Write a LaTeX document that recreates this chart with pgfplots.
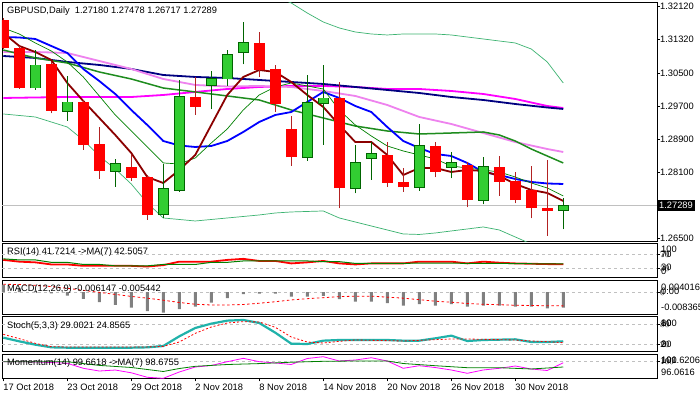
\documentclass[border=0pt]{standalone}
\usepackage{pgfplots}
\pgfplotsset{compat=1.18}
\usepackage{fontspec}
\setmainfont{Liberation Sans}
\newcommand{\lbl}{\fontsize{9.3}{10}\selectfont}
\definecolor{bullfill}{HTML}{32CD32}
\definecolor{bullline}{HTML}{006400}
\definecolor{bearfill}{HTML}{FF0000}
\definecolor{bearwick}{HTML}{B22222}
\definecolor{ma5}{HTML}{8B0000}
\definecolor{thgreen}{HTML}{008000}
\definecolor{tkgreen}{HTML}{1E8C1E}
\definecolor{bband}{HTML}{3CB371}
\definecolor{violetc}{HTML}{EE82EE}
\definecolor{navyc}{HTML}{000080}
\definecolor{magc}{HTML}{FF00FF}
\definecolor{bluec}{HTML}{0000FF}
\definecolor{stochc}{HTML}{20B2AA}
\definecolor{lvl}{HTML}{C0C0C0}
\definecolor{histc}{HTML}{808080}
\pgfplotsset{
  scaled ticks=false,
  panel/.style={scale only axis, width=655pt, xmin=-0.08, xmax=40.86,
    axis line style={line width=0.8pt, black}, xtick=\empty,
    ytick pos=right, yticklabel pos=right, tick align=outside,
    major tick length=3pt, tick style={black, line width=0.6pt},
    yticklabel style={font=\lbl, anchor=west, inner sep=0pt, text=black},
    clip=true},
}
% bull{k}{Low}{Open}{Close}{High}
\newcommand{\bull}[5]{%
\addplot[bullline, line width=0.8pt] coordinates {(#1,#2)(#1,#5)};
\addplot[bullline, line width=10.7pt, shorten <=-0.8pt, shorten >=-0.8pt] coordinates {(#1,#3)(#1,#4)};
\addplot[bullfill, line width=9.1pt] coordinates {(#1,#3)(#1,#4)};}
% bear{k}{Low}{Close}{Open}{High}
\newcommand{\bear}[5]{%
\addplot[bearwick, line width=0.8pt] coordinates {(#1,#2)(#1,#5)};
\addplot[bearfill, line width=10.7pt] coordinates {(#1,#3)(#1,#4)};}
\begin{document}
\begin{tikzpicture}
\useasboundingbox (0,0) rectangle (700pt,-400pt);
\fill[white] (0,0) rectangle (700pt,-400pt);
% ---------------- main price panel
\begin{axis}[panel, at={(2pt,-2pt)}, anchor=north west, height=239.5pt,
  ymin=1.26422, ymax=1.32234,
  ytick={1.26500,1.28100,1.28900,1.29700,1.30500,1.31320,1.32120},
  yticklabels={1.26500,1.28100,1.28900,1.29700,1.30500,1.31320,1.32120}]
% Bollinger bands
\addplot[bband, line width=0.7pt] coordinates {(0,1.3345)(4,1.3330)(8,1.3310)(12,1.3285)(15,1.3260)(16,1.3250)(17,1.32380)(18,1.32210)(19,1.31967)(20,1.31749)(21,1.31604)(22,1.31507)(23,1.31458)(24,1.31434)(25,1.31458)(26,1.31458)(27,1.31458)(28,1.31434)(29,1.31385)(30,1.31337)(31,1.31288)(32,1.31240)(33,1.31094)(34,1.30779)(35,1.30269)};
\addplot[bband, line width=0.7pt] coordinates {(0,1.29517)(2,1.29444)(4,1.29201)(5,1.28886)(6,1.28497)(7,1.28182)(8,1.27818)(9,1.27357)(10,1.26993)(11,1.26957)(12,1.26920)(14,1.26993)(16,1.27066)(17,1.27114)(18,1.27139)(20,1.27163)(21,1.26993)(22,1.26896)(24,1.26702)(25,1.26605)(26,1.26593)(27,1.26629)(28,1.26678)(29,1.26726)(30,1.26775)(31,1.26702)(32,1.26532)(33,1.26362)(34,1.26168)(35,1.26022)};
% long moving averages
\addplot[magc, line width=1.8pt] coordinates {(0,1.29905)(4,1.29929)(8,1.29929)(10,1.29978)(12,1.30051)(14,1.30123)(16,1.30172)(18,1.30196)(20,1.30196)(22,1.30172)(24,1.30123)(26,1.30123)(28,1.30075)(30,1.30002)(32,1.29881)(34,1.29711)(35,1.29662)};
\addplot[navyc, line width=1.8pt] coordinates {(0,1.30924)(2,1.30876)(4,1.30779)(6,1.30706)(8,1.30609)(10,1.30463)(12,1.30415)(14,1.30390)(16,1.30342)(18,1.30293)(20,1.30245)(22,1.30172)(24,1.30099)(26,1.30026)(28,1.29929)(30,1.29856)(32,1.29759)(34,1.29674)(35,1.29638)};
\addplot[violetc, line width=1.8pt] coordinates {(0,1.31021)(2,1.31021)(4,1.30997)(6,1.30803)(8,1.30609)(10,1.30366)(12,1.30221)(14,1.30184)(16,1.30196)(18,1.30172)(20,1.30075)(22,1.29954)(24,1.29735)(26,1.29444)(28,1.29274)(30,1.29055)(32,1.28837)(34,1.28667)(35,1.28594)};
\addplot[tkgreen, line width=1.5pt] coordinates {(0,1.31070)(2,1.30876)(4,1.30754)(6,1.30536)(8,1.30366)(10,1.30147)(12,1.30051)(14,1.29954)(16,1.29856)(18,1.29614)(20,1.29420)(22,1.29225)(24,1.29104)(26,1.29031)(28,1.29055)(30,1.29080)(31,1.29007)(32,1.28861)(33,1.28667)(34,1.28497)(35,1.28328)};
\addplot[bluec, line width=1.8pt] coordinates {(0,1.31385)(1,1.31373)(2,1.31337)(3,1.31167)(4,1.30997)(5,1.30609)(6,1.30317)(7,1.30002)(8,1.29614)(9,1.29250)(10,1.28861)(11,1.28752)(12,1.28716)(13,1.28740)(14,1.28861)(15,1.29080)(16,1.29323)(17,1.29492)(18,1.29565)(19,1.29808)(20,1.30051)(21,1.29905)(22,1.29711)(23,1.29565)(24,1.29201)(25,1.28861)(26,1.28692)(27,1.28546)(28,1.28497)(29,1.28328)(30,1.28109)(31,1.28036)(32,1.27939)(33,1.27867)(34,1.27830)(35,1.27818)};
\addplot[thgreen, line width=0.7pt] coordinates {(0,1.31604)(1,1.31458)(2,1.31240)(3,1.31045)(4,1.30779)(5,1.30415)(6,1.29954)(7,1.29492)(8,1.29104)(9,1.28716)(10,1.28328)(11,1.28303)(12,1.28449)(13,1.28813)(14,1.29153)(15,1.29614)(16,1.29978)(17,1.30172)(18,1.30269)(19,1.30196)(20,1.30123)(21,1.29614)(22,1.29250)(23,1.28983)(24,1.28740)(25,1.28619)(26,1.28522)(27,1.28425)(28,1.28255)(29,1.28206)(30,1.28158)(31,1.28109)(32,1.27988)(33,1.27842)(34,1.27721)(35,1.27527)};
\addplot[ma5, line width=1.8pt] coordinates {(0,1.31482)(1,1.31167)(2,1.31021)(3,1.30827)(4,1.30269)(5,1.29832)(6,1.29420)(7,1.29007)(8,1.28570)(9,1.27988)(10,1.27842)(11,1.28158)(12,1.28522)(13,1.29250)(14,1.29978)(15,1.30415)(16,1.30584)(17,1.30536)(18,1.30293)(19,1.29978)(20,1.29687)(21,1.29250)(22,1.28837)(23,1.28837)(24,1.28522)(25,1.28036)(26,1.28206)(27,1.28206)(28,1.28109)(29,1.28158)(30,1.28134)(31,1.28012)(32,1.27818)(33,1.27673)(34,1.27600)(35,1.27406)};
% current price line
\addplot[lvl, line width=0.8pt] coordinates {(-0.08,1.27289)(40.86,1.27289)};
% candles
\bear{0}{1.31094}{1.31111}{1.31797}{1.31846}
\bear{1}{1.30123}{1.30155}{1.31111}{1.31166}
\bull{2}{1.30099}{1.30155}{1.30698}{1.31069}
\bear{3}{1.29533}{1.29596}{1.30730}{1.30785}
\bull{4}{1.29354}{1.29596}{1.29800}{1.30438}
\bear{5}{1.28643}{1.28764}{1.29800}{1.29856}
\bear{6}{1.27939}{1.28140}{1.28788}{1.29194}
\bull{7}{1.27752}{1.28140}{1.28303}{1.28424}
\bear{8}{1.27898}{1.27956}{1.28223}{1.28521}
\bear{9}{1.26944}{1.27065}{1.27980}{1.28036}
\bull{10}{1.26985}{1.27082}{1.27689}{1.28303}
\bull{11}{1.27631}{1.27672}{1.29936}{1.30341}
\bear{12}{1.29492}{1.29693}{1.29936}{1.30421}
\bull{13}{1.29630}{1.30213}{1.30373}{1.30560}
\bull{14}{1.30196}{1.30373}{1.30941}{1.31069}
\bull{15}{1.30722}{1.31014}{1.31232}{1.31741}
\bear{16}{1.30421}{1.30584}{1.31232}{1.31499}
\bear{17}{1.29572}{1.29752}{1.30601}{1.30705}
\bear{18}{1.28262}{1.28466}{1.29145}{1.29468}
\bull{19}{1.28383}{1.28466}{1.29776}{1.30463}
\bull{20}{1.28764}{1.29776}{1.29897}{1.30705}
\bear{21}{1.27228}{1.27713}{1.29897}{1.30300}
\bull{22}{1.27592}{1.27713}{1.28320}{1.28764}
\bull{23}{1.27915}{1.28441}{1.28546}{1.28830}
\bear{24}{1.27752}{1.27849}{1.28521}{1.28844}
\bear{25}{1.27631}{1.27738}{1.27859}{1.28199}
\bull{26}{1.27655}{1.27738}{1.28747}{1.29274}
\bear{27}{1.27980}{1.28116}{1.28747}{1.28844}
\bull{28}{1.27956}{1.28237}{1.28320}{1.28601}
\bear{29}{1.27252}{1.27429}{1.28279}{1.28359}
\bull{30}{1.27325}{1.27429}{1.28223}{1.28480}
\bear{31}{1.27534}{1.27873}{1.28223}{1.28504}
\bear{32}{1.27349}{1.27429}{1.27890}{1.28102}
\bear{33}{1.26985}{1.27228}{1.27672}{1.28254}
\bear{34}{1.26563}{1.27170}{1.27228}{1.28400}
\bull{35}{1.26717}{1.27180}{1.27289}{1.27478}
\coordinate (cp) at (axis cs:40.86,1.27289);
\end{axis}
\node[fill=black, text=white, font=\lbl, anchor=west, inner xsep=2pt, inner ysep=0pt, minimum height=11pt] at (cp) {1.27289};
\node[anchor=west, font=\lbl, inner sep=0pt] at (7pt,-11pt) {GBPUSD,Daily\ \ 1.27180 1.27478 1.26717 1.27289};
% ---------------- RSI
\begin{axis}[panel, at={(2pt,-243.5pt)}, anchor=north west, height=34.2pt,
  ymin=3, ymax=101, ytick={30,70}, yticklabel={}]
\addplot[lvl, dash pattern=on 3pt off 3pt, line width=0.6pt] coordinates {(-0.08,70)(40.86,70)};
\addplot[lvl, dash pattern=on 3pt off 3pt, line width=0.6pt] coordinates {(-0.08,30)(40.86,30)};
\addplot[red, line width=1.8pt] coordinates {(0,54)(1,49)(2,47)(3,41)(4,41)(5,37)(6,37)(7,37)(8,37)(9,35)(10,39)(11,49)(12,49)(13,49)(14,54)(15,57)(16,51)(17,51)(18,44)(19,47)(20,51)(21,44)(22,41)(23,44)(24,44)(25,44)(26,49)(27,49)(28,49)(29,44)(30,49)(31,46)(32,44)(33,43)(34,42)(35,41.72)};
\addplot[thgreen, line width=1pt] coordinates {(0,57)(1,54)(2,54)(3,47)(4,47)(5,41)(6,41)(7,37)(8,37)(9,37)(10,41)(11,41)(12,41)(13,47)(14,47)(15,51)(16,51)(17,51)(18,51)(19,51)(20,49)(21,49)(22,44)(23,44)(24,44)(25,44)(26,45)(27,45)(28,45)(29,44)(30,44)(31,44)(32,43.5)(33,43)(34,42.8)(35,42.51)};
\end{axis}
\node[anchor=west, font=\lbl, inner sep=0pt] at (7pt,-252.3pt) {RSI(14) 41.7214 ->MA(7) 42.5057};
\node[anchor=west, font=\lbl, inner sep=0pt] at (661pt,-249.5pt) {100};
\node[anchor=west, font=\lbl, inner sep=0pt] at (661pt,-253.8pt) {70};
\node[anchor=west, font=\lbl, inner sep=0pt] at (661pt,-267.5pt) {30};
\node[anchor=west, font=\lbl, inner sep=0pt] at (661pt,-270.8pt) {0};
% ---------------- MACD
\begin{axis}[panel, at={(2pt,-280pt)}, anchor=north west, height=34.3pt,
  ymin=-0.008786, ymax=0.004792, ytick={0}, yticklabel={}]
\addplot[lvl, dash pattern=on 3pt off 3pt, line width=0.6pt] coordinates {(-0.08,0)(40.86,0)};
\addplot[ybar, bar width=3pt, fill=histc, draw=none] coordinates {(0,0.0030)(1,0.0015)(2,0.0005)(3,-0.0005)(4,-0.0014)(5,-0.0027)(6,-0.0040)(7,-0.0051)(8,-0.0061)(9,-0.0075)(10,-0.0081)(11,-0.0067)(12,-0.0057)(13,-0.00415)(14,-0.0024)(15,-0.0008)(16,-0.00056)(17,-0.00056)(18,-0.00176)(19,-0.00176)(20,-0.00148)(21,-0.0028)(22,-0.00375)(23,-0.00375)(24,-0.0044)(25,-0.0053)(26,-0.0048)(27,-0.0053)(28,-0.0048)(29,-0.00575)(30,-0.0053)(31,-0.0053)(32,-0.00575)(33,-0.00575)(34,-0.0064)(35,-0.006147)};
\addplot[red, line width=0.8pt, dash pattern=on 2.5pt off 2.5pt] coordinates {(0,0.0031)(1,0.0030)(2,0.0027)(3,0.0022)(4,0.0015)(5,0.0007)(6,-0.0001)(7,-0.0009)(8,-0.0017)(9,-0.0024)(10,-0.0032)(11,-0.0041)(12,-0.0048)(13,-0.0051)(14,-0.0051)(15,-0.0049)(16,-0.0044)(17,-0.0038)(18,-0.0031)(19,-0.0026)(20,-0.0022)(21,-0.0018)(22,-0.0016)(23,-0.0016)(24,-0.0020)(25,-0.0024)(26,-0.0030)(27,-0.0036)(28,-0.0040)(29,-0.0045)(30,-0.0048)(31,-0.0050)(32,-0.0052)(33,-0.0053)(34,-0.0054)(35,-0.005442)};
\end{axis}
\node[anchor=west, font=\lbl, inner sep=0pt] at (7pt,-289pt) {MACD(12,26,9) -0.006147 -0.005442};
\node[anchor=west, font=\lbl, inner sep=0pt] at (661pt,-287.5pt) {0.004016};
\node[anchor=west, font=\lbl, inner sep=0pt] at (661pt,-291.3pt) {0.00};
\node[anchor=west, font=\lbl, inner sep=0pt] at (661pt,-307pt) {-0.008365};
% ---------------- Stochastic
\begin{axis}[panel, at={(2pt,-316.7pt)}, anchor=north west, height=34.3pt,
  ymin=0, ymax=102.8, ytick={20,80}, yticklabel={}]
\addplot[lvl, dash pattern=on 3pt off 3pt, line width=0.6pt] coordinates {(-0.08,80)(40.86,80)};
\addplot[lvl, dash pattern=on 3pt off 3pt, line width=0.6pt] coordinates {(-0.08,20)(40.86,20)};
\addplot[stochc, line width=2.2pt] coordinates {(0,40)(1,29)(2,19)(3,11)(4,10)(5,10)(6,10)(7,10)(8,10)(9,11)(10,15)(11,44)(12,69)(13,82)(14,91)(15,93)(16,84)(17,55)(18,22)(19,21)(20,31)(21,33)(22,33)(23,33)(24,33)(25,31)(26,31)(27,38)(28,46)(29,30)(30,33)(31,34)(32,35)(33,27)(34,27)(35,29.0)};
\addplot[red, line width=0.8pt, dash pattern=on 2pt off 2pt] coordinates {(0,50)(1,37)(2,23)(3,13)(4,12)(5,12)(6,12)(7,12)(8,12)(9,12)(10,14)(11,27)(12,53)(13,72)(14,84)(15,88)(16,87)(17,71)(18,42)(19,27)(20,24)(21,29)(22,33)(23,32)(24,31)(25,30)(26,32)(27,34)(28,36)(29,36)(30,35)(31,34)(32,33)(33,30)(34,28)(35,24.86)};
\end{axis}
\node[anchor=west, font=\lbl, inner sep=0pt] at (7pt,-326pt) {Stoch(5,3,3) 29.0021 24.8565};
\node[anchor=west, font=\lbl, inner sep=0pt] at (661pt,-323.3pt) {100};
\node[anchor=west, font=\lbl, inner sep=0pt] at (661pt,-323.7pt) {80};
\node[anchor=west, font=\lbl, inner sep=0pt] at (661pt,-344pt) {20};
\node[anchor=west, font=\lbl, inner sep=0pt] at (661pt,-344.5pt) {0};
% ---------------- Momentum
\begin{axis}[panel, at={(2pt,-354.3pt)}, anchor=north west, height=24pt,
  ymin=96.0616, ymax=101.6206, ytick={100}, yticklabel={},
  xtick={0,4,8,12,16,20,24,28,32}, xtick pos=bottom,
  xticklabels={17 Oct 2018,23 Oct 2018,29 Oct 2018,2 Nov 2018,8 Nov 2018,14 Nov 2018,20 Nov 2018,26 Nov 2018,30 Nov 2018},
  xticklabel style={font=\lbl, anchor=north west, inner sep=0pt, yshift=-2pt, text=black}]
\addplot[lvl, dash pattern=on 3pt off 3pt, line width=0.6pt] coordinates {(-0.08,100)(40.86,100)};
\addplot[magc, line width=0.8pt] coordinates {(0,99.91)(1,99.91)(2,99.86)(3,99.72)(4,99.54)(5,98.38)(6,97.75)(7,97.98)(8,97.34)(9,96.30)(10,96.06)(11,97.52)(12,98.68)(13,99.03)(14,99.91)(15,100.69)(16,99.91)(17,99.61)(18,99.26)(19,100.65)(20,101.07)(21,100.07)(22,100.30)(23,100.83)(24,100.07)(25,98.38)(26,98.98)(27,98.56)(28,97.99)(29,97.22)(30,97.99)(31,98.38)(32,98.91)(33,98.22)(34,97.87)(35,99.66)};
\addplot[thgreen, line width=0.8pt] coordinates {(0,99.91)(4,99.91)(6,99.05)(8,98.57)(10,97.64)(11,98.33)(12,98.84)(14,99.26)(16,99.47)(18,99.79)(20,100.00)(22,100.07)(24,100.07)(25,99.49)(27,98.98)(29,98.52)(31,98.52)(33,98.22)(35,98.68)};
\end{axis}
\node[anchor=west, font=\lbl, inner sep=0pt] at (7pt,-362.7pt) {Momentum(14) 99.6618 ->MA(7) 98.6755};
\node[anchor=west, font=\lbl, inner sep=0pt] at (661pt,-360pt) {101.6206};
\node[anchor=west, font=\lbl, inner sep=0pt] at (661pt,-360pt) {100};
\node[anchor=west, font=\lbl, inner sep=0pt] at (661pt,-372.3pt) {96.0616};
\end{tikzpicture}
\end{document}
